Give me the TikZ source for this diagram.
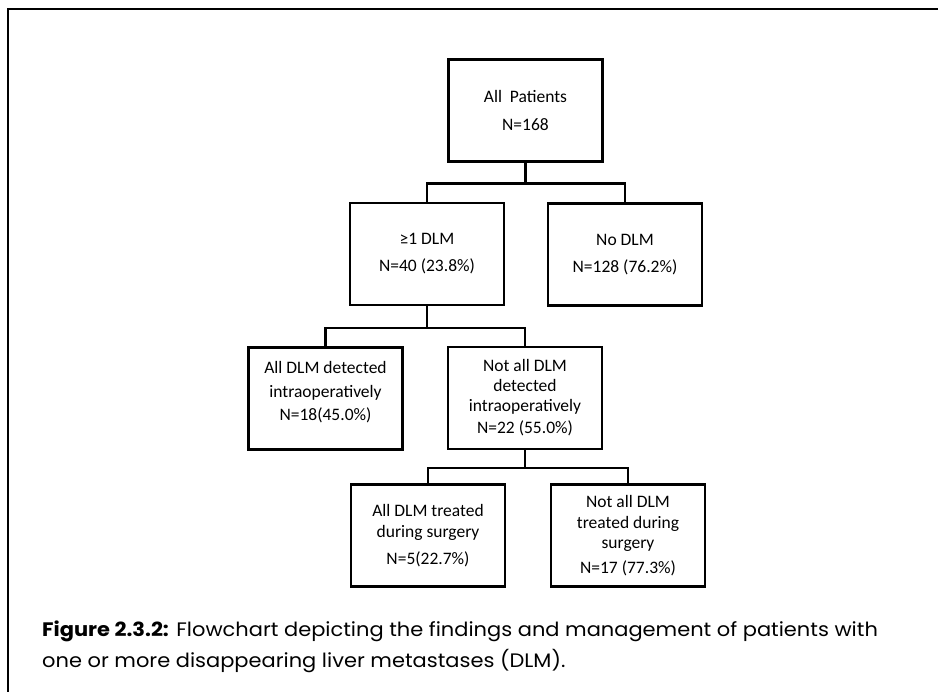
\documentclass[tikz,border=0pt]{standalone}
\usepackage{fontspec}
\setmainfont{Carlito}
\newfontfamily\capfont[FakeStretch=1.075]{Poppins}
\begin{document}
\begin{tikzpicture}[x=1pt,y=-1pt,
  box/.style={draw=black, line width=2.2pt, minimum width=154pt, minimum height=102pt,
    align=center, inner sep=0pt, font=\fontsize{17.5}{20.5}\selectfont},
  conn/.style={draw=black, line width=2.2pt},
  frame/.style={draw=black, line width=2.4pt}]
\useasboundingbox (0,0) rectangle (938,692);
\fill[white] (0,0) rectangle (938,692);
\draw[frame] (8,692) -- (8,9) -- (938,9);

\node[box] (top) at (525.5,110.5) {All\ \ Patients\\[7.5pt]N=168};
\node[box] (dlm1) at (427,254) {≥1 DLM\\[6.5pt]N=40 (23.8\%)};
\node[box] (nodlm) at (625,254.5) {No DLM\\[6.5pt]N=128 (76.2\%)};
\node[box] (alldet) at (325.5,398.5) {All DLM detected\\[3pt]intraoperatively\\[3pt]N=18(45.0\%)\\[-6pt]\mbox{}};
\node[box] (notdet) at (525,398) {Not all DLM\\[-0.5pt]detected\\[-0.5pt]intraoperatively\\[1.5pt]N=22 (55.0\%)};
\node[box] (alltr) at (428,535.5) {All DLM treated\\[0.5pt]during surgery\\[6.5pt]N=5(22.7\%)};
\node[box] (nottr) at (628,535.5) {Not all DLM\\[0.5pt]treated during\\[-0.5pt]surgery\\[4.5pt]N=17 (77.3\%)};

\draw[conn] (top.south) -- ++(0,21) -| (dlm1.north);
\draw[conn] (top.south) -- ++(0,21) -| (nodlm.north);
\draw[conn] (dlm1.south) -- ++(0,22) -| (alldet.north);
\draw[conn] (dlm1.south) -- ++(0,22) -| (notdet.north);
\draw[conn] (notdet.south) -- ++(0,18) -| (alltr.north);
\draw[conn] (notdet.south) -- ++(0,18) -| (nottr.north);

\node[anchor=base west, align=left, inner sep=0pt, font=\capfont\fontsize{19.5}{31}\selectfont] (cap) at (42,667)
  {\textbf{Figure 2.3.2:} Flowchart depicting the findings and management of patients with\\
   one or more disappearing liver metastases (DLM).};
\end{tikzpicture}
\end{document}
